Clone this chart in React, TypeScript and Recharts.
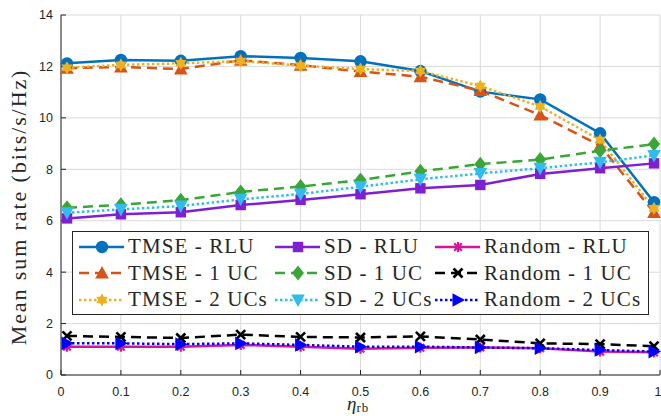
import { LineChart, Line, XAxis, YAxis, CartesianGrid, Legend } from 'recharts';

// x positions of the simulated points
const etaRb = [0.01, 0.1, 0.2, 0.3, 0.4, 0.5, 0.6, 0.7, 0.8, 0.9, 0.99];

const tmseRlu = [12.12, 12.25, 12.22, 12.4, 12.33, 12.2, 11.82, 11.02, 10.72, 9.4, 6.72];
const tmse1uc = [11.93, 11.98, 11.9, 12.24, 12.05, 11.8, 11.6, 11.06, 10.11, 8.92, 6.32];
const tmse2uc = [11.95, 12.06, 12.12, 12.21, 12.03, 11.9, 11.82, 11.24, 10.44, 9.14, 6.48];
const sdRlu = [6.09, 6.25, 6.33, 6.61, 6.81, 7.03, 7.26, 7.39, 7.82, 8.04, 8.23];
const sd1uc = [6.5, 6.62, 6.8, 7.12, 7.33, 7.58, 7.92, 8.2, 8.38, 8.72, 8.98];
const sd2uc = [6.31, 6.44, 6.57, 6.83, 7.04, 7.32, 7.61, 7.84, 8.04, 8.27, 8.54];
const randRlu = [1.1, 1.1, 1.1, 1.17, 1.1, 1.02, 1.06, 1.07, 1.04, 0.91, 0.88];
const rand1uc = [1.52, 1.48, 1.44, 1.57, 1.48, 1.46, 1.5, 1.38, 1.23, 1.2, 1.12];
const rand2uc = [1.23, 1.23, 1.2, 1.23, 1.17, 1.1, 1.1, 1.07, 1.04, 0.97, 0.91];

const xTicks = [0, 0.1, 0.2, 0.3, 0.4, 0.5, 0.6, 0.7, 0.8, 0.9, 1];
const yTicks = [0, 2, 4, 6, 8, 10, 12, 14];

type Shape = 'circle' | 'up' | 'hexagram' | 'square' | 'diamond' | 'down' | 'asterisk' | 'cross' | 'right';

const series: { key: string; name: string; values: number[]; color: string; dash?: string; shape: Shape }[] = [
  { key: 'tmseRlu', name: 'TMSE - RLU', values: tmseRlu, color: '#0072BD', shape: 'circle' },
  { key: 'tmse1uc', name: 'TMSE - 1 UC', values: tmse1uc, color: '#D95319', dash: '10 6', shape: 'up' },
  { key: 'tmse2uc', name: 'TMSE - 2 UCs', values: tmse2uc, color: '#EDB120', dash: '2.5 2.5', shape: 'hexagram' },
  { key: 'sdRlu', name: 'SD - RLU', values: sdRlu, color: '#7E1FD2', shape: 'square' },
  { key: 'sd1uc', name: 'SD - 1 UC', values: sd1uc, color: '#3BA637', dash: '10 6', shape: 'diamond' },
  { key: 'sd2uc', name: 'SD - 2 UCs', values: sd2uc, color: '#30BCEE', dash: '2.5 2.5', shape: 'down' },
  { key: 'randRlu', name: 'Random - RLU', values: randRlu, color: '#D4169A', shape: 'asterisk' },
  { key: 'rand1uc', name: 'Random - 1 UC', values: rand1uc, color: '#000000', dash: '10 6', shape: 'cross' },
  { key: 'rand2uc', name: 'Random - 2 UCs', values: rand2uc, color: '#0000FF', dash: '2.5 2.5', shape: 'right' },
];

const data = etaRb.map((x, i) => {
  const row: Record<string, number> = { x };
  series.forEach((s) => (row[s.key] = s.values[i]));
  return row;
});

function Marker({ cx, cy, shape, color }: { cx: number; cy: number; shape: Shape; color: string }) {
  switch (shape) {
    case 'circle':
      return <circle cx={cx} cy={cy} r={6.2} fill={color} />;
    case 'square':
      return <rect x={cx - 5.2} y={cy - 5.2} width={10.4} height={10.4} fill={color} />;
    case 'up':
      return <polygon points={`${cx},${cy - 7} ${cx - 6.8},${cy + 5.5} ${cx + 6.8},${cy + 5.5}`} fill={color} />;
    case 'down':
      return <polygon points={`${cx},${cy + 7} ${cx - 6.8},${cy - 5.5} ${cx + 6.8},${cy - 5.5}`} fill={color} />;
    case 'right':
      return <polygon points={`${cx + 7},${cy} ${cx - 5.5},${cy - 6.8} ${cx - 5.5},${cy + 6.8}`} fill={color} />;
    case 'diamond':
      return <polygon points={`${cx},${cy - 7.5} ${cx + 6},${cy} ${cx},${cy + 7.5} ${cx - 6},${cy}`} fill={color} />;
    case 'hexagram': {
      const pts: string[] = [];
      for (let k = 0; k < 12; k++) {
        const a = (Math.PI / 6) * k - Math.PI / 2;
        const rr = k % 2 === 0 ? 6.5 : 3.8;
        pts.push(`${cx + rr * Math.cos(a)},${cy + rr * Math.sin(a)}`);
      }
      return <polygon points={pts.join(' ')} fill={color} />;
    }
    case 'asterisk':
      return (
        <g stroke={color} strokeWidth={2.2}>
          <line x1={cx - 5} y1={cy} x2={cx + 5} y2={cy} />
          <line x1={cx} y1={cy - 5} x2={cx} y2={cy + 5} />
          <line x1={cx - 3.8} y1={cy - 3.8} x2={cx + 3.8} y2={cy + 3.8} />
          <line x1={cx - 3.8} y1={cy + 3.8} x2={cx + 3.8} y2={cy - 3.8} />
        </g>
      );
    case 'cross':
      return (
        <g stroke={color} strokeWidth={2.6}>
          <line x1={cx - 4.5} y1={cy - 4.5} x2={cx + 4.5} y2={cy + 4.5} />
          <line x1={cx - 4.5} y1={cy + 4.5} x2={cx + 4.5} y2={cy - 4.5} />
        </g>
      );
  }
  return null;
}

const serif = 'Liberation Serif, Times New Roman, serif';
const sans = 'Liberation Sans, Arial, sans-serif';
const colLeft = [5, 201, 361];
const rowMid = [14.5, 41.2, 67.9];

function renderLegend() {
  return (
    <div
      style={{
        position: 'relative',
        width: 577,
        height: 84,
        boxSizing: 'border-box',
        border: '1px solid #262626',
        background: '#fff',
        fontFamily: serif,
        fontSize: 21,
        letterSpacing: 1.1,
        color: '#262626',
      }}
    >
      {series.map((s, i) => {
        const col = Math.floor(i / 3);
        const row = i % 3;
        return (
          <div key={s.key} style={{ position: 'absolute', left: colLeft[col], top: rowMid[row] - 13, height: 26, display: 'flex', alignItems: 'center', whiteSpace: 'nowrap' }}>
            <svg width={48} height={26} style={{ marginRight: 2 }}>
              <line x1={1} y1={13} x2={46} y2={13} stroke={s.color} strokeWidth={2.5} strokeDasharray={s.dash} />
              <Marker cx={24} cy={13} shape={s.shape} color={s.color} />
            </svg>
            <span>{s.name}</span>
          </div>
        );
      })}
    </div>
  );
}

export default function App() {
  return (
    <div style={{ position: 'absolute', left: 0, top: 0, background: '#fff' }}>
      <LineChart width={661} height={416} data={data} margin={{ top: 15, right: 1, bottom: 0, left: 0 }}>
        <CartesianGrid stroke="#DADADA" strokeWidth={1} />
        <XAxis
          dataKey="x"
          type="number"
          domain={[0, 1]}
          ticks={xTicks}
          height={41}
          stroke="#262626"
          tickSize={-5}
          tickMargin={17}
          tick={{ fill: '#262626', fontSize: 12.5, fontFamily: sans }}
          label={{
            content: () => (
              <text x={347} y={410} fill="#262626" style={{ fontFamily: serif }}>
                <tspan fontSize={19} fontStyle="italic">η</tspan>
                <tspan fontSize={13} dy={2} letterSpacing={1}>rb</tspan>
              </text>
            ),
          }}
        />
        <XAxis xAxisId="top" orientation="top" dataKey="x" type="number" domain={[0, 1]} ticks={xTicks} height={0} stroke="#262626" tickSize={-5} tick={false} />
        <YAxis
          type="number"
          domain={[0, 14]}
          ticks={yTicks}
          width={61}
          stroke="#262626"
          tickSize={-5}
          tickMargin={13}
          tick={{ fill: '#262626', fontSize: 12.5, fontFamily: sans }}
          label={{
            content: () => (
              <text
                x={26}
                y={207}
                transform="rotate(-90 26 207)"
                textAnchor="middle"
                fill="#262626"
                style={{ fontFamily: serif, fontSize: 22, letterSpacing: 1.9 }}
              >
                Mean sum rate (bits/s/Hz)
              </text>
            ),
          }}
        />
        <YAxis yAxisId="right" orientation="right" type="number" domain={[0, 14]} ticks={yTicks} width={0} stroke="#262626" tickSize={-5} tick={false} />
        {series.map((s) => (
          <Line
            key={s.key}
            dataKey={s.key}
            name={s.name}
            type="linear"
            stroke={s.color}
            strokeWidth={2.5}
            strokeDasharray={s.dash}
            isAnimationActive={false}
            dot={(p: any) => <Marker key={`${s.key}-${p.index}`} cx={p.cx} cy={p.cy} shape={s.shape} color={s.color} />}
            activeDot={false}
          />
        ))}
        <Legend
          content={renderLegend}
          layout="vertical"
          align="center"
          verticalAlign="middle"
          wrapperStyle={{ left: 72, top: 231, width: 577, height: 84 }}
        />
      </LineChart>
    </div>
  );
}
